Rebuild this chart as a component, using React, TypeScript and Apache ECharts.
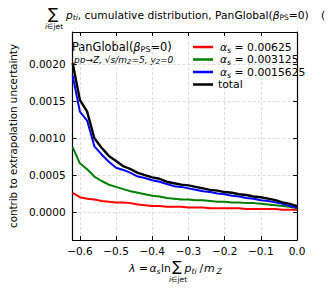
import React, { useEffect, useRef } from "react";
import * as echarts from "echarts";

const F = "DejaVu Sans";

const lambdaValues = [
  -0.62, -0.6, -0.58, -0.56, -0.54, -0.52, -0.5, -0.48, -0.46, -0.44, -0.42, -0.4, -0.38, -0.36, -0.34, -0.32,
  -0.3, -0.28, -0.26, -0.24, -0.22, -0.2, -0.18, -0.16, -0.14, -0.12, -0.1, -0.08, -0.06, -0.04, -0.02, 0.0,
];

const alphaRed = [
  0.00026, 0.0002, 0.00018, 0.00017, 0.00015, 0.00014, 0.00013, 0.00013, 0.00012, 0.0001, 0.00009, 0.00008, 0.00008, 0.00007, 0.00007, 0.00007,
  0.00006, 0.00006, 0.00006, 0.00005, 0.00005, 0.00005, 0.00005, 0.00005, 0.00004, 0.00004, 0.00004, 0.00004, 0.00004, 0.00003, 0.00003, 0.00003,
];

const alphaGreen = [
  0.00088, 0.00066, 0.00058, 0.00048, 0.00042, 0.00037, 0.00034, 0.00031, 0.00028, 0.00026, 0.00024, 0.00022, 0.00021, 0.00019, 0.00018, 0.00017,
  0.00017, 0.00016, 0.00016, 0.00015, 0.00014, 0.00014, 0.00013, 0.00013, 0.00012, 0.00012, 0.00011, 0.0001, 0.00009, 0.00008, 0.00007, 0.00005,
];

const alphaBlue = [
  0.00185, 0.00136, 0.00124, 0.00089, 0.00078, 0.00068, 0.0006, 0.00057, 0.00053, 0.00048, 0.00046, 0.00043, 0.00041, 0.00038, 0.00035, 0.00034,
  0.00032, 0.0003, 0.00028, 0.00027, 0.00025, 0.00024, 0.00022, 0.00021, 0.00019, 0.00018, 0.00016, 0.00015, 0.00013, 0.00011, 0.00008, 0.00006,
];

const totalValues = [
  0.00202, 0.00152, 0.00136, 0.001, 0.00087, 0.00076, 0.00069, 0.00062, 0.00058, 0.00053, 0.0005, 0.00047, 0.00045, 0.00041, 0.00039, 0.00037,
  0.00036, 0.00034, 0.00032, 0.0003, 0.00029, 0.00027, 0.00026, 0.00024, 0.00023, 0.00021, 0.0002, 0.00018, 0.00016, 0.00013, 0.00011, 0.00008,
];

const seriesNames = ["0.00625", "0.003125", "0.0015625", "total"];
const seriesColors = ["#ff0000", "#008000", "#0000ff", "#000000"];
const seriesValues = [alphaRed, alphaGreen, alphaBlue, totalValues];

const xMin = -0.62;
const xMax = 0.0;
const yMin = -0.00038;
const yMax = 0.00244;

const rich = (fs: number, color = "#000") => ({
  r: { fontFamily: F, fontSize: fs, lineHeight: Math.round(fs * 1.15), color },
  i: { fontFamily: F, fontSize: fs, fontStyle: "italic", lineHeight: Math.round(fs * 1.15), color },
  sub: { fontFamily: F, fontSize: fs * 0.7, fontStyle: "italic", lineHeight: Math.round(fs * 0.6), verticalAlign: "bottom", color },
  subr: { fontFamily: F, fontSize: fs * 0.7, lineHeight: Math.round(fs * 0.6), verticalAlign: "bottom", color },
});

const xFmt = (v: number) => {
  if (Math.abs(v * 10 - Math.round(v * 10)) > 1e-6) return "";
  const s = Math.abs(v).toFixed(1);
  return v < -1e-9 ? "\u2212" + s : s;
};
const yFmt = (v: number) => {
  if (Math.abs(v / 0.0005 - Math.round(v / 0.0005)) > 1e-6) return "";
  return Math.abs(v).toFixed(4);
};

const axisCommon = {
  axisLine: { show: true, onZero: false, lineStyle: { color: "#000", width: 1.2 } },
  axisTick: { show: true, inside: true, length: 4, lineStyle: { color: "#000", width: 1 } },
};

const tok = (x: number, y: number, text: string, size: number, italic = false, align = "left") => ({
  type: "text",
  x,
  y,
  style: {
    text,
    font: `${italic ? "italic " : ""}${size}px '${F}'`,
    fill: "#000",
    textAlign: align,
    textVerticalAlign: "middle",
  },
});

export default function App() {
  const ref = useRef<HTMLDivElement>(null);
  useEffect(() => {
    const chart = echarts.init(ref.current!, null, { renderer: "svg" });
    const option: any = {
      animation: false,
      backgroundColor: "#fff",
      grid: { left: 62, right: 35, top: 32, bottom: 51, containLabel: false },
      xAxis: [
        {
          type: "value",
          min: xMin,
          max: xMax,
          splitNumber: 6,
          position: "bottom",
          ...axisCommon,
          axisLabel: { formatter: xFmt, fontFamily: F, fontSize: 10.5, color: "#000", margin: 5 },
          splitLine: { show: true, lineStyle: { color: "#d4d4d4", type: [3, 2], width: 0.8 } },
        },
        {
          type: "value",
          min: xMin,
          max: xMax,
          splitNumber: 6,
          position: "top",
          ...axisCommon,
          axisLabel: { show: false },
          splitLine: { show: false },
        },
      ],
      yAxis: [
        {
          type: "value",
          min: yMin,
          max: yMax,
          splitNumber: 6,
          position: "left",
          ...axisCommon,
          axisLabel: { formatter: yFmt, fontFamily: F, fontSize: 10.5, color: "#000", margin: 7 },
          splitLine: { show: true, lineStyle: { color: "#d4d4d4", type: [3, 2], width: 0.8 } },
          name: "contrib to extrapolation uncertainty",
          nameLocation: "middle",
          nameRotate: 90,
          nameGap: 43,
          nameTextStyle: { fontFamily: F, fontSize: 10.3, color: "#000" },
        },
        {
          type: "value",
          min: yMin,
          max: yMax,
          splitNumber: 6,
          position: "right",
          ...axisCommon,
          axisLabel: { show: false },
          splitLine: { show: false },
        },
      ],
      legend: {
        orient: "vertical",
        left: 188,
        top: 36.5,
        itemWidth: 20,
        itemHeight: 2.5,
        itemGap: 0,
        icon: "rect",
        selectedMode: false,
        data: seriesNames,
        formatter: (name: string) =>
          name === "total" ? "{n|total}" : "{i|\u03b1}{s|s}{n| = " + name + "}",
        textStyle: {
          fontFamily: F,
          fontSize: 10.8,
          color: "#000",
          rich: {
            n: { fontFamily: F, fontSize: 10.8, lineHeight: 14, color: "#000" },
            i: { fontFamily: F, fontSize: 10.8, fontStyle: "italic", lineHeight: 14, color: "#000", padding: [0, 0, 0, 2] },
            s: { fontFamily: F, fontSize: 7.8, fontStyle: "italic", lineHeight: 8, verticalAlign: "bottom", color: "#000" },
          },
        },
      },
      series: seriesNames.map((name, k) => ({
        name,
        type: "line",
        xAxisIndex: 0,
        yAxisIndex: 0,
        symbol: "none",
        showSymbol: false,
        z: 3 + k,
        lineStyle: { color: seriesColors[k], width: k === 3 ? 2.4 : 2 },
        itemStyle: { color: seriesColors[k] },
        data: lambdaValues.map((x, i) => [x, seriesValues[k][i]]),
      })),
      graphic: [
        // title
        tok(53, 14, "\u2211", 15, false, "center"),
        { type: "text", x: 54, y: 26, style: { text: "{i|i}{r|\u2208jet}", rich: rich(7.5), textAlign: "center", textVerticalAlign: "middle" } },
        {
          type: "text",
          x: 66,
          y: 15,
          style: {
            text: "{i|p}{sub|ti}{r|, cumulative distribution, PanGlobal(}{i|\u03b2}{subr|PS}{r|=0)}",
            rich: rich(10.7),
            textVerticalAlign: "middle",
          },
        },
        tok(321, 15, "(", 10.7),
        // annotation
        {
          type: "text",
          x: 72,
          y: 46.5,
          style: { text: "{r|PanGlobal(}{i|\u03b2}{subr|PS}{r|=0)}", rich: rich(11.4), textVerticalAlign: "middle" },
        },
        {
          type: "text",
          x: 74,
          y: 59.5,
          style: {
            text: "{i|pp\u2192Z, \u221a}{i|s}{i|/m}{sub|Z}{i|=5, y}{sub|Z}{i|=0}",
            rich: rich(9, "#b0b0b0"),
            textVerticalAlign: "middle",
          },
        },
        // x axis name
        tok(129, 268, "\u03bb", 10.8, true),
        tok(139, 268, "=", 10.8),
        tok(149.5, 268, "\u03b1", 10.8, true),
        tok(156.5, 271.5, "s", 7.6, true),
        tok(161, 268, "ln", 10.8),
        tok(177, 266, "\u2211", 14, false, "center"),
        { type: "text", x: 178, y: 279, style: { text: "{i|i}{r|\u2208jet}", rich: rich(7.5), textAlign: "center", textVerticalAlign: "middle" } },
        tok(184.5, 268, "p", 11, true),
        tok(191.5, 271.5, "ti", 7.7, true),
        tok(199.5, 268, "/", 11),
        tok(204, 268, "m", 11, true),
        tok(216.5, 271.5, "Z", 7.7, true),
      ],
    };
    chart.setOption(option);
    return () => chart.dispose();
  }, []);
  return (
    <div
      ref={ref}
      style={{ position: "fixed", left: 0, top: 0, width: 332, height: 291, background: "#fff" }}
    />
  );
}
